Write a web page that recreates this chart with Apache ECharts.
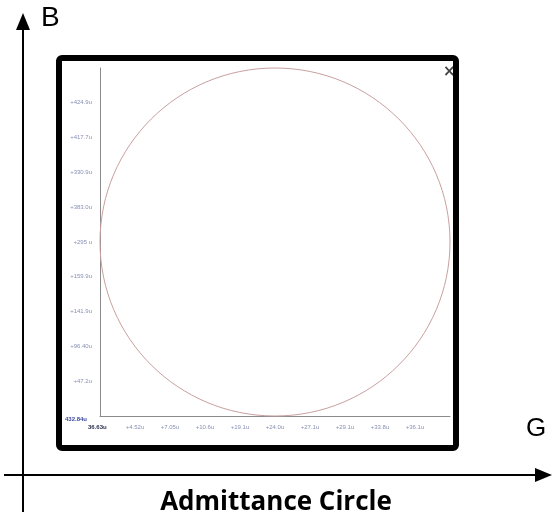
<!DOCTYPE html>
<html>
<head>
<meta charset="utf-8">
<script src="https://cdn.jsdelivr.net/npm/echarts@6/dist/echarts.min.js"></script>
<style>
html,body{margin:0;padding:0;background:#fff;}
#chart{width:552px;height:519px;}
</style>
</head>
<body>
<div id="chart"></div>
<script>
// Tick labels (approximate)
const xTickLabels = ["36.63u", "+4.52u", "+7.05u", "+10.6u", "+19.1u", "+24.0u", "+27.1u", "+29.1u", "+33.8u", "+36.1u", ""];
const yTickLabels = ["432.84u", "+47.2u", "+96.40u", "+141.9u", "+159.9u", "+295 u", "+383.0u", "+330.9u", "+417.7u", "+424.9u", ""];
// Admittance circle: centre (G, B) and radius, in axis units
const circleCenterG = [5.0];
const circleCenterB = [5.0];
const circleRadius = [5.0];

const chart = echarts.init(document.getElementById('chart'), null, {renderer: 'canvas'});

const circleData = circleCenterG.map((g, i) => [g, circleCenterB[i], circleRadius[i]]);

const option = {
  animation: false,
  backgroundColor: '#ffffff',
  grid: {left: 100, top: 68, width: 350, height: 348, containLabel: false},
  xAxis: {
    type: 'value', min: 0, max: 10, interval: 1,
    axisLine: {show: true, onZero: false, lineStyle: {color: '#8a8a8a', width: 1}},
    axisTick: {show: false},
    splitLine: {show: false},
    axisLabel: {
      show: true, fontSize: 6, fontFamily: 'Liberation Sans', margin: 8,
      color: '#8890b4',
      formatter: (v) => {
        const i = Math.round(v);
        if (i === 0) return '';
        return xTickLabels[i] || '';
      }
    }
  },
  yAxis: {
    type: 'value', min: 0, max: 10, interval: 1,
    axisLine: {show: true, onZero: false, lineStyle: {color: '#8a8a8a', width: 1}},
    axisTick: {show: false},
    splitLine: {show: false},
    axisLabel: {
      show: true, fontSize: 6, fontFamily: 'Liberation Sans', margin: 8,
      color: '#8890b4',
      formatter: (v) => {
        const i = Math.round(v);
        if (i === 0) return '';
        return yTickLabels[i] || '';
      }
    }
  },
  series: [{
    type: 'custom',
    coordinateSystem: 'cartesian2d',
    data: circleData,
    silent: true,
    renderItem: function (params, api) {
      const c = api.coord([api.value(0), api.value(1)]);
      const s = api.size([api.value(2), api.value(2)]);
      return {
        type: 'ellipse',
        shape: {cx: c[0], cy: c[1], rx: s[0], ry: s[1]},
        style: {fill: 'none', stroke: '#c9a0a0', lineWidth: 1}
      };
    }
  }],
  graphic: [
    // origin labels of inner plot
    {type: 'text', left: 65, top: 416, style: {text: yTickLabels[0], fontSize: 6, fontWeight: 'bold', fill: '#3a48a0', fontFamily: 'Liberation Sans'}},
    {type: 'text', left: 88, top: 424, style: {text: xTickLabels[0], fontSize: 6, fontWeight: 'bold', fill: '#2a3050', fontFamily: 'Liberation Sans'}},
    // close mark
    {type: 'text', left: 443, top: 65, style: {text: '×', fontSize: 15, fontWeight: 'bold', fill: '#444', fontFamily: 'DejaVu Sans'}},
    // black frame
    {type: 'rect', shape: {x: 59, y: 58, width: 397, height: 390, r: 3}, style: {fill: 'none', stroke: '#000', lineWidth: 6}},
    // vertical B axis arrow
    {type: 'line', shape: {x1: 23, y1: 28, x2: 23, y2: 512}, style: {stroke: '#000', lineWidth: 2}},
    {type: 'polygon', shape: {points: [[23, 13], [16, 30], [30, 30]]}, style: {fill: '#000'}},
    // horizontal G axis arrow
    {type: 'line', shape: {x1: 4, y1: 475, x2: 537, y2: 475}, style: {stroke: '#000', lineWidth: 2}},
    {type: 'polygon', shape: {points: [[552, 475], [535, 468], [535, 482]]}, style: {fill: '#000'}},
    // axis letters
    {type: 'text', left: 41, top: 4, style: {text: 'B', fontSize: 28, fill: '#000', fontFamily: 'Liberation Sans'}},
    {type: 'text', left: 526, top: 416, style: {text: 'G', fontSize: 26, fill: '#000', fontFamily: 'Liberation Sans'}},
    // title
    {type: 'text', x: 276, y: 503, style: {text: 'Admittance Circle', fontSize: 26, fontWeight: 'bold', fill: '#000', fontFamily: 'Open Sans', align: 'center', verticalAlign: 'middle'}}
  ]
};
chart.setOption(option);
</script>
</body>
</html>
